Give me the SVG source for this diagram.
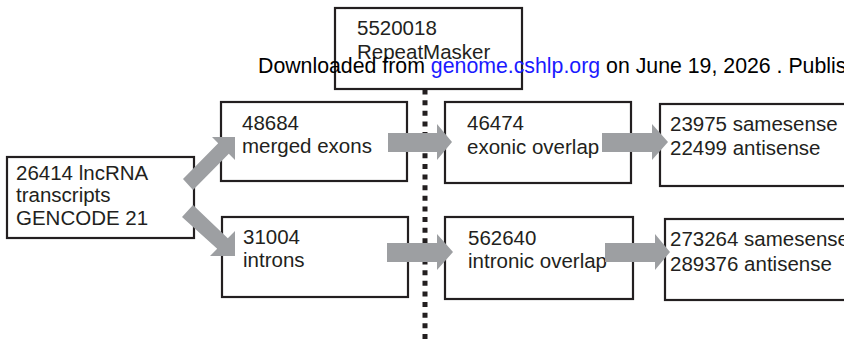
<svg xmlns="http://www.w3.org/2000/svg" width="844" height="347" viewBox="0 0 844 347">
<style>
.box{fill:#ffffff;stroke:#231f20;stroke-width:2.2}
.t{font-family:"Liberation Sans",Arial,sans-serif;font-size:20.5px;fill:#231f20}
.dl{font-family:"Liberation Sans",Arial,sans-serif;font-size:21.3px;fill:#000000}
.arr{fill:#9d9fa2}
.dots{stroke:#231f20;stroke-width:5;stroke-dasharray:5 5.63;fill:none}
</style>
<rect width="844" height="347" fill="#ffffff"/>
<g id="repeatmasker">
<rect class="box" x="335" y="8" width="187" height="81"/>
<text class="t" x="357" y="35">5520018</text>
<text class="t" x="357" y="59">RepeatMasker</text>
</g>
<g id="lncrna">
<rect class="box" x="7" y="157" width="187" height="81"/>
<text class="t" x="16" y="180">26414 lncRNA</text>
<text class="t" x="16" y="202">transcripts</text>
<text class="t" x="16" y="225">GENCODE 21</text>
</g>
<g id="merged-exons">
<rect class="box" x="221" y="102" width="186" height="79"/>
<text class="t" x="242" y="130">48684</text>
<text class="t" x="242" y="153">merged exons</text>
</g>
<g id="introns">
<rect class="box" x="222" y="217" width="186" height="80"/>
<text class="t" x="243" y="244">31004</text>
<text class="t" x="243" y="267">introns</text>
</g>
<g id="exonic-overlap">
<rect class="box" x="445" y="102" width="186" height="81"/>
<text class="t" x="467" y="130">46474</text>
<text class="t" x="467" y="154">exonic overlap</text>
</g>
<g id="intronic-overlap">
<rect class="box" x="445" y="217" width="188" height="82"/>
<text class="t" x="468" y="245">562640</text>
<text class="t" x="468" y="268">intronic overlap</text>
</g>
<g id="exonic-sense">
<rect class="box" x="660" y="104" width="240" height="82"/>
<text class="t" x="670" y="131">23975 samesense</text>
<text class="t" x="670" y="155">22499 antisense</text>
</g>
<g id="intronic-sense">
<rect class="box" x="665" y="219" width="240" height="81"/>
<text class="t" x="670" y="246">273264 samesense</text>
<text class="t" x="670" y="271">289376 antisense</text>
</g>
<g id="connectors">
<line class="dots" x1="425" y1="89.5" x2="425" y2="339.5"/>
<path class="arr" d="M183,179 L218.2,143.2 L212,137 L235,137 L235,160 L228.8,153.8 L193,190 Z"/>
<path class="arr" d="M193,205 L227.8,238.2 L235,231 L235,256 L210,256 L217.2,248.8 L182,217 Z"/>
<path class="arr" d="M388,133 H437 V124 L452,142 L437,160 V152 H388 Z"/>
<path class="arr" d="M602,133 H652 V124 L668,142 L652,160 V152 H602 Z"/>
<path class="arr" d="M387,243 H437 V234 L453,252 L437,270 V262 H387 Z"/>
<path class="arr" d="M605,243 H655 V234 L670,252 L655,270 V262 H605 Z"/>
</g>
<text class="dl" x="258" y="73">Downloaded from <tspan fill="#1a1aff">genome.cshlp.org</tspan> on June 19, 2026 . Publis</text>
</svg>
